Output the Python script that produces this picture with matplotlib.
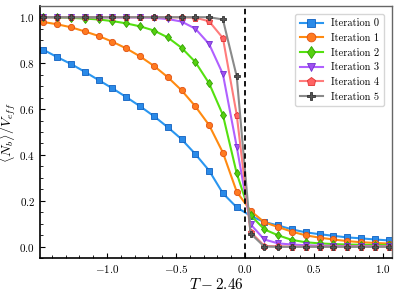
import matplotlib
matplotlib.use("Agg")
import matplotlib.pyplot as plt
from matplotlib.ticker import MultipleLocator

plt.rcParams['font.family'] = ['cmr10', 'DejaVu Serif']
plt.rcParams['mathtext.fontset'] = 'cm'
plt.rcParams['axes.formatter.use_mathtext'] = True
plt.rcParams['axes.unicode_minus'] = True

T_shift = 2.46
T = [1.0, 1.1, 1.2, 1.3, 1.4, 1.5, 1.6, 1.7, 1.8, 1.9, 2.0, 2.1, 2.2,
     2.3, 2.4, 2.5, 2.6, 2.7, 2.8, 2.9, 3.0, 3.1, 3.2, 3.3, 3.4, 3.5]

it0 = [0.858, 0.826, 0.796, 0.762, 0.726, 0.690, 0.652, 0.612, 0.569, 0.521, 0.469, 0.404, 0.332,
       0.233, 0.172, 0.135, 0.108, 0.093, 0.076, 0.063, 0.055, 0.048, 0.041, 0.037, 0.032, 0.028]
it1 = [0.979, 0.969, 0.956, 0.938, 0.918, 0.893, 0.864, 0.829, 0.788, 0.739, 0.682, 0.612, 0.530,
       0.410, 0.240, 0.157, 0.107, 0.086, 0.066, 0.050, 0.040, 0.032, 0.025, 0.020, 0.017, 0.014]
it2 = [1.000, 0.999, 0.997, 0.994, 0.990, 0.983, 0.973, 0.960, 0.942, 0.912, 0.867, 0.805, 0.712,
       0.574, 0.320, 0.138, 0.076, 0.050, 0.030, 0.020, 0.015, 0.012, 0.010, 0.009, 0.008, 0.008]
it3 = [1.000, 1.000, 1.000, 1.000, 0.999, 0.999, 0.999, 0.999, 0.997, 0.992, 0.981, 0.950, 0.883,
       0.752, 0.436, 0.098, 0.032, 0.015, 0.010, 0.007, 0.005, 0.004, 0.003, 0.003, 0.003, 0.002]
it4 = [1.000, 1.000, 1.000, 1.000, 1.000, 1.000, 1.000, 1.000, 1.000, 1.000, 0.999, 0.998, 0.982,
       0.909, 0.575, 0.065, 0.004, 0.002, 0.001, 0.001, 0.001, 0.001, 0.001, 0.001, 0.001, 0.001]
it5 = [1.000, 1.000, 1.000, 1.000, 1.000, 1.000, 1.000, 1.000, 1.000, 1.000, 1.000, 1.000, 1.000,
       0.990, 0.742, 0.058, 0.001, 0.000, 0.000, 0.000, 0.000, 0.000, 0.000, 0.000, 0.000, 0.000]

labels = ["Iteration 0", "Iteration 1", "Iteration 2", "Iteration 3", "Iteration 4", "Iteration 5"]
series = [it0, it1, it2, it3, it4, it5]
markers = ['s', 'o', 'd', 'v', 'p', 'P']
colors = ['#2a96f0', '#ff8a10', '#55e010', '#b060ff', '#ff7c7c', '#8a8a8a']
mfaces = ['#2a8ae8', '#ff7a20', '#55d010', '#a050f0', '#ff6464', '#555555']
medges = ['#1060c0', '#e05010', '#30a000', '#7030d0', '#e03030', '#333333']

x = [t - T_shift for t in T]

fig = plt.figure(figsize=(3.98, 2.94), dpi=100)
ax = fig.add_axes([0.1005, 0.1214, 0.8845, 0.8592])

for ys, lab, m, c, mf, me in zip(series, labels, markers, colors, mfaces, medges):
    ax.plot(x, ys, marker=m, color=c, markerfacecolor=mf, markeredgecolor=me,
            markeredgewidth=0.6, markersize=4.5, lw=1.5, label=lab)

ax.axvline(0.0, color='black', ls='--', lw=1.3, dashes=(3, 2))

ax.set_xlim(-1.485, 1.065)
ax.set_ylim(-0.05, 1.05)
ax.xaxis.set_major_locator(MultipleLocator(0.5))
ax.xaxis.set_minor_locator(MultipleLocator(0.1))
ax.yaxis.set_major_locator(MultipleLocator(0.2))
ax.yaxis.set_minor_locator(MultipleLocator(0.05))
ax.tick_params(which='both', direction='in', top=False, right=False, labelsize=8)
ax.tick_params(which='major', length=3.5, width=0.8)
ax.tick_params(which='minor', length=2, width=0.6)

for s in ['left', 'bottom']:
    ax.spines[s].set_color('black')
    ax.spines[s].set_linewidth(1.2)
for s in ['top', 'right']:
    ax.spines[s].set_color('#666666')
    ax.spines[s].set_linewidth(1.0)

ax.set_xlabel(r'$T-2.46$', fontsize=11, labelpad=1)
ax.set_ylabel(r'$\langle N_b\rangle/V_{eff}$', fontsize=10)
ax.yaxis.set_label_coords(-0.062, 0.5)

ax.legend(loc='upper right', fontsize=7.5, handlelength=2.2, borderpad=0.45,
          labelspacing=0.5, handletextpad=0.8, markerscale=1.4, borderaxespad=0.8,
          framealpha=0.8, fancybox=True)

fig.savefig('out.png', dpi=100)
